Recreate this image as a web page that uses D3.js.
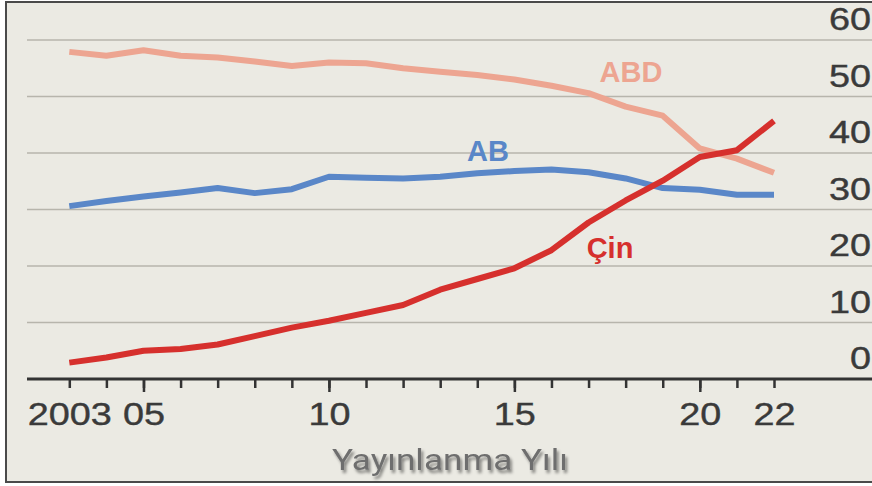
<!DOCTYPE html>
<html>
<head>
<meta charset="utf-8">
<script src="https://cdn.jsdelivr.net/npm/d3@7"></script>
<style>
  html, body { margin: 0; padding: 0; background: #ffffff; }
  svg { display: block; }
</style>
</head>
<body>
<script>
// ---- data ----
const years = [2003,2004,2005,2006,2007,2008,2009,2010,2011,2012,2013,2014,2015,2016,2017,2018,2019,2020,2021,2022];
const abd = [57.9,57.2,58.2,57.2,56.9,56.2,55.4,56.0,55.9,55.0,54.4,53.8,53.0,51.9,50.6,48.2,46.6,40.8,39.0,36.5];
const ab  = [30.6,31.5,32.3,33.0,33.8,32.9,33.6,35.8,35.6,35.5,35.8,36.4,36.8,37.1,36.6,35.5,33.8,33.5,32.6,32.6];
const cin = [2.9,3.8,5.0,5.3,6.1,7.6,9.1,10.3,11.7,13.1,15.8,17.7,19.6,22.8,27.7,31.6,35.1,39.3,40.5,45.7];
const yTicks = [0,10,20,30,40,50,60];
const majorYears = [2005,2010,2015,2020];
const labelYears = [2003,2005,2010,2015,2020,2022];
const labelText = ["2003","05","10","15","20","22"];
const seriesNames = ["ABD","AB","Çin"];
const xTitle = "Yayınlanma Yılı";

const W = 872, H = 486;
const svg = d3.select("body").append("svg").attr("width", W).attr("height", H);

const defs = svg.append("defs");
const f = defs.append("filter").attr("id","shadow").attr("x","-10%").attr("y","-30%").attr("width","130%").attr("height","180%");
f.append("feDropShadow").attr("dx",2).attr("dy",3).attr("stdDeviation",1.6).attr("flood-color","#000").attr("flood-opacity",0.45);

// background + frame
svg.append("rect").attr("x",6).attr("y",2).attr("width",W+4).attr("height",480)
  .attr("fill","#ebeae3").attr("stroke","#4a4a4a").attr("stroke-width",2);

const x = d3.scaleLinear().domain([2003,2022]).range([69.3,774]);
const y = d3.scaleLinear().domain([0,60]).range([379,40]);

// gridlines
svg.append("g").selectAll("line").data(yTicks.filter(d => d>0)).join("line")
  .attr("x1",27).attr("x2",W).attr("y1",d=>y(d)).attr("y2",d=>y(d))
  .attr("stroke","#b7b5ac").attr("stroke-width",1.5);

// y labels
svg.append("g").selectAll("text").data(yTicks).join("text")
  .attr("transform", d => `translate(871,${y(d)-10}) scale(1.2,1)`)
  .attr("text-anchor","end")
  .attr("font-family","Liberation Sans, Arial, sans-serif").attr("font-size",31.5)
  .attr("fill","#3a3a3a").attr("stroke","#3a3a3a").attr("stroke-width",0.4)
  .text(d => d);

// x axis: minor ticks
const axMinor = svg.append("g").attr("transform","translate(0,379)")
  .call(d3.axisBottom(x).tickValues(years).tickSize(9).tickFormat(""));
axMinor.select(".domain").remove();
axMinor.selectAll(".tick line").attr("stroke","#333").attr("stroke-width",2.5);
const axMajor = svg.append("g").attr("transform","translate(0,379)")
  .call(d3.axisBottom(x).tickValues(majorYears).tickSize(13).tickFormat(""));
axMajor.select(".domain").remove();
axMajor.selectAll(".tick line").attr("stroke","#333").attr("stroke-width",2.5);
const axLab = svg.append("g").attr("transform","translate(0,379)")
  .call(d3.axisBottom(x).tickValues(labelYears).tickSize(0).tickPadding(24)
    .tickFormat(d => labelText[labelYears.indexOf(d)]));
axLab.select(".domain").remove();
axLab.selectAll(".tick text")
  .attr("font-family","Liberation Sans, Arial, sans-serif").attr("font-size",31.5)
  .attr("fill","#3a3a3a").attr("stroke","#3a3a3a").attr("stroke-width",0.4)
  .attr("transform","scale(1.2,1)");
// axis line
svg.append("line").attr("x1",27).attr("x2",W).attr("y1",379).attr("y2",379)
  .attr("stroke","#333").attr("stroke-width",2.8);

// lines
const line = d3.line().x((d,i)=>x(years[i])).y(d=>y(d));
const series = [
  {name: seriesNames[0], values: abd, color: "#eda591"},
  {name: seriesNames[1], values: ab,  color: "#5a87c8"},
  {name: seriesNames[2], values: cin, color: "#d6302d"}
];
svg.append("g").selectAll("path").data(series).join("path")
  .attr("d", d => line(d.values))
  .attr("fill","none").attr("stroke", d=>d.color).attr("stroke-width",6)
  .attr("stroke-linejoin","round");

// series labels
const labPos = [[631,82],[488,161],[610,258]];
svg.append("g").selectAll("text").data(series).join("text")
  .attr("x",(d,i)=>labPos[i][0]).attr("y",(d,i)=>labPos[i][1])
  .attr("text-anchor","middle")
  .attr("font-family","Liberation Sans, Arial, sans-serif").attr("font-weight","bold").attr("font-size",29)
  .attr("fill", d=>d.color)
  .text(d=>d.name);

// x title
svg.append("text").attr("x",332).attr("y",470)
  .attr("textLength",236).attr("lengthAdjust","spacingAndGlyphs")
  .attr("font-family","Roboto, Liberation Sans, Arial, sans-serif").attr("font-size",30)
  .attr("fill","#6e6e6e").attr("filter","url(#shadow)")
  .text(xTitle);
</script>
</body>
</html>
